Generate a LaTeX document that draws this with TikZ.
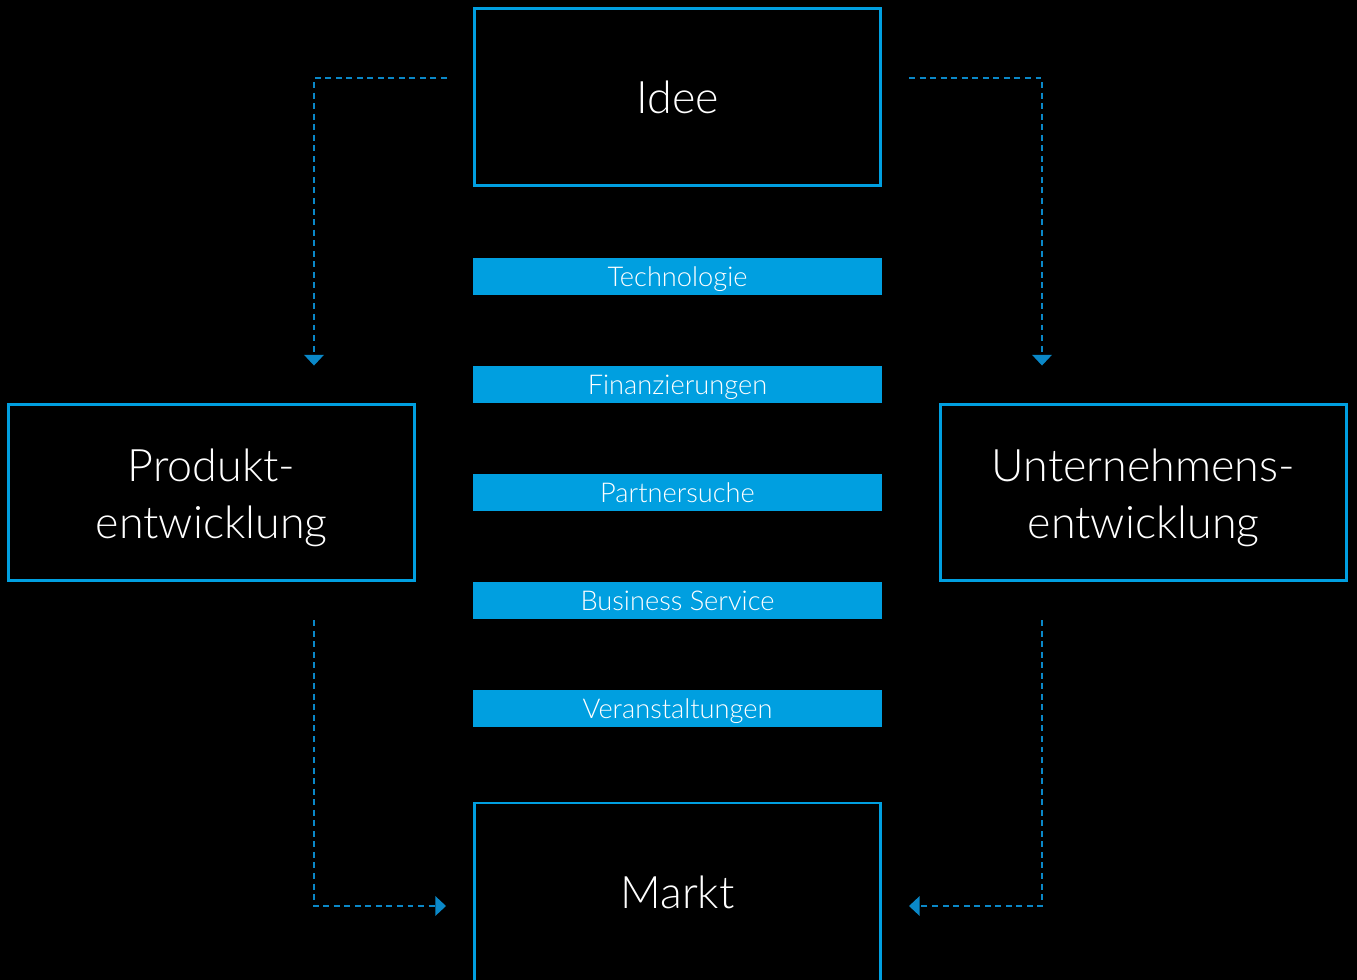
\documentclass[tikz,border=0pt]{standalone}
\usepackage{fontspec}
\setmainfont{Lato Light}
\usetikzlibrary{arrows.meta}
\definecolor{boxblue}{HTML}{009FE0}
\definecolor{dashblue}{HTML}{0A88C8}

\begin{document}
\begin{tikzpicture}[x=0.02cm, y=-0.02cm, >={Triangle[width=11pt, length=6pt]},
    bigbox/.style={draw=boxblue, line width=1.7pt, minimum width=8.12cm, minimum height=3.54cm,
        inner sep=0pt, text=white, font=\fontsize{25.5}{32.6}\selectfont},
    bigtext/.style={inner sep=0pt, align=center, text=white, font=\fontsize{25.5}{32.6}\selectfont},
    bar/.style={fill=boxblue, minimum width=8.18cm, minimum height=0.74cm, inner sep=0pt,
        text height=11.6pt, text depth=0pt, text=white, font=\fontsize{15.5}{18}\selectfont},
    flow/.style={dashblue, line width=0.9pt, dash pattern=on 3.4pt off 2.6pt, ->}]
    \fill[black] (0, 0) rectangle (1357, 980);
    \useasboundingbox (0, 0) rectangle (1357, 980);
    % main boxes
    \node[bigbox, text height=18.5pt, text depth=0pt] (idee) at (677.5, 97) {Idee};
    \node[bigbox] (produkt) at (211.5, 492.5) {};
    \node[bigtext] (produktText) at (211.5, 497.5) {Produkt-\\entwicklung};
    \node[bigbox] (unternehmen) at (1143.5, 492.5) {};
    \node[bigtext] (unternehmenText) at (1143.5, 497.5) {Unternehmens-\\entwicklung};
    \node[bigbox, minimum height=3.7cm, anchor=north, text height=14.4pt, text depth=0pt] (markt)
        at (677.5, 801.5) {Markt};
    % service bars
    \node[bar] (tech) at (677.5, 276.5) {Technologie};
    \node[bar] (finanz) at (677.5, 384.5) {Finanzierungen};
    \node[bar] (partner) at (677.5, 492.5) {Partnersuche};
    \node[bar] (service) at (677.5, 600.5) {Business Service};
    \node[bar] (events) at (677.5, 708.5) {Veranstaltungen};
    % connector ends
    \coordinate (ideeL) at (447, 78);
    \coordinate (ideeR) at (909, 78);
    \coordinate (produktB) at (314, 620);
    \coordinate (unternehmenB) at (1042, 620);
    \coordinate (marktL) at (446, 906);
    \coordinate (marktR) at (909, 906);
    \draw[flow] (ideeL) -| ([yshift=0.74cm]produkt.north -| produktB);
    \draw[flow] (ideeR) -| ([yshift=0.74cm]unternehmen.north -| unternehmenB);
    \draw[flow] (produktB) |- (marktL);
    \draw[flow] (unternehmenB) |- (marktR);
\end{tikzpicture}
\end{document}
